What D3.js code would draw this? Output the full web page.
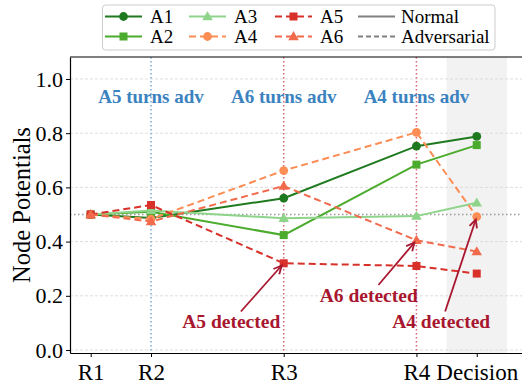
<!DOCTYPE html>
<html><head><meta charset="utf-8">
<script src="https://cdn.jsdelivr.net/npm/d3@7"></script>
<style>body{margin:0;background:#fff;} svg{display:block;}</style>
</head><body>
<svg id="c" width="522" height="385"></svg>
<script>
const categories = ["R1","R2","R3","R4","Decision"];
const catPos = [0, 1, 3.2, 5.4, 6.4];
const yTicks = [0.0, 0.2, 0.4, 0.6, 0.8, 1.0];
const A1 = [0.50, 0.487, 0.560, 0.752, 0.788];
const A2 = [0.50, 0.510, 0.424, 0.684, 0.756];
const A3 = [0.50, 0.515, 0.486, 0.494, 0.543];
const A4 = [0.50, 0.483, 0.662, 0.803, 0.492];
const A5 = [0.50, 0.535, 0.320, 0.310, 0.282];
const A6 = [0.50, 0.474, 0.605, 0.405, 0.363];
const seriesNames = ["A1","A2","A3","A4","A5","A6"];
const seriesValues = [A1,A2,A3,A4,A5,A6];
const seriesColors = ["#1f7a1f","#4bab2c","#8fd48b","#fb8d55","#d8312a","#f26a4c"];
const seriesMarkers = ["circle","square","triangle","circle","square","triangle"];
const seriesAdversarial = [false,false,false,true,true,true];
const turnLabels = ["A5 turns adv","A6 turns adv","A4 turns adv"];
const turnAt = [1, 3.2, 5.4];
const detectLabels = ["A5 detected","A6 detected","A4 detected"];
const detectSeries = [4, 5, 3];
const detectRound = [2, 3, 4];
const detectTextPos = [[2.33, 0.081],[4.61, 0.178],[5.81, 0.081]];
const detectTail = [[2.49, 0.142],[4.77, 0.24],[5.876, 0.142]];

const svg = d3.select("#c");
const L = 70, R = 525, T = 57, B = 353;
const x = d3.scaleLinear().domain([-0.343, 7.2]).range([L, R]);
const y = d3.scaleLinear().domain([-0.011, 1.081]).range([B, T]);
const serif = "'Liberation Serif','Times New Roman',serif";

// shaded decision region
svg.append("rect").attr("x", x(catPos[4]-0.5)).attr("y", T)
  .attr("width", x(catPos[4]+0.5)-x(catPos[4]-0.5)).attr("height", B-T).attr("fill","#f2f2f2");

// grid
svg.append("g").selectAll("line").data(yTicks).join("line")
  .attr("x1", L).attr("x2", R).attr("y1", d=>y(d)).attr("y2", d=>y(d))
  .attr("stroke","#d9d9d9").attr("stroke-width",0.9).attr("stroke-dasharray","3,2");

// 0.5 reference
svg.append("line").attr("x1",L).attr("x2",R).attr("y1",y(0.5)).attr("y2",y(0.5))
  .attr("stroke","#999").attr("stroke-width",1.4).attr("stroke-dasharray","1.5,2.5");

// vertical event lines
const vColors = ["#7aaad6","#d6647a","#d6647a"];
turnAt.forEach((t,i)=>{
  svg.append("line").attr("x1",x(t)).attr("x2",x(t)).attr("y1",T).attr("y2",B)
    .attr("stroke",vColors[i]).attr("stroke-width",1.5).attr("stroke-dasharray","1.5,2.5");
});

// axes
const xAxis = d3.axisBottom(x).tickValues(catPos).tickFormat((d,i)=>categories[i]).tickSize(4).tickSizeOuter(0);
const yAxis = d3.axisLeft(y).tickValues(yTicks).tickFormat(d3.format(".1f")).tickSize(4).tickSizeOuter(0);
const gx = svg.append("g").attr("transform",`translate(0,${B})`).call(xAxis);
const gy = svg.append("g").attr("transform",`translate(${L},0)`).call(yAxis);
[gx,gy].forEach(g=>{
  g.select(".domain").attr("stroke","#000").attr("stroke-width",1.2);
  g.selectAll(".tick line").attr("stroke","#000").attr("stroke-width",1);
  g.selectAll(".tick text").attr("fill","#000").style("font-family",serif).style("font-size","22px");
});
gx.selectAll(".tick text").attr("dy","0.88em").style("font-size","23px");
svg.append("line").attr("x1",L).attr("x2",R).attr("y1",T).attr("y2",T).attr("stroke","#000").attr("stroke-width",1.2);

svg.append("text").attr("transform",`translate(24,${(T+B)/2}) rotate(-90)`)
  .attr("text-anchor","middle").attr("dominant-baseline","middle")
  .style("font-family",serif).style("font-size","24.5px").text("Node Potentials");

function marker(g, type, cx, cy, color, s){
  if(type==="circle") g.append("circle").attr("cx",cx).attr("cy",cy).attr("r",s*0.55).attr("fill",color);
  else if(type==="square") g.append("rect").attr("x",cx-s/2).attr("y",cy-s/2).attr("width",s).attr("height",s).attr("fill",color);
  else { const h=s*1.1; g.append("path").attr("d",`M${cx},${cy-h*0.62}L${cx+h*0.6},${cy+h*0.42}L${cx-h*0.6},${cy+h*0.42}Z`).attr("fill",color); }
}

// series
const line = d3.line().x((d,i)=>x(catPos[i])).y(d=>y(d));
const sg = svg.append("g");
seriesValues.forEach((vals,k)=>{
  sg.append("path").datum(vals).attr("d",line).attr("fill","none")
    .attr("stroke",seriesColors[k]).attr("stroke-width",2)
    .attr("stroke-dasharray", seriesAdversarial[k] ? "7,4" : null);
  vals.forEach((v,i)=>marker(sg, seriesMarkers[k], x(catPos[i]), y(v), seriesColors[k], 8));
});

// turn labels
turnLabels.forEach((t,i)=>{
  svg.append("text").attr("x",x(turnAt[i])).attr("y",y(0.911)).attr("text-anchor","middle")
    .style("font-family",serif).style("font-weight","bold").style("font-size","19px")
    .attr("fill","#3b82c0").text(t);
});

// detected annotations
const dc = "#a8172f";
detectLabels.forEach((t,i)=>{
  const sx = x(detectTail[i][0]), sy = y(detectTail[i][1]);
  const tx = x(catPos[detectRound[i]]), ty = y(seriesValues[detectSeries[i]][detectRound[i]]);
  const ang = Math.atan2(ty-sy, tx-sx);
  const ex = tx - Math.cos(ang)*3, ey = ty - Math.sin(ang)*3;
  svg.append("line").attr("x1",sx).attr("y1",sy).attr("x2",ex).attr("y2",ey).attr("stroke",dc).attr("stroke-width",1.8);
  const hl = 9, ha = 0.45;
  svg.append("path").attr("d",`M${ex-Math.cos(ang-ha)*hl},${ey-Math.sin(ang-ha)*hl}L${ex},${ey}L${ex-Math.cos(ang+ha)*hl},${ey-Math.sin(ang+ha)*hl}`)
    .attr("fill","none").attr("stroke",dc).attr("stroke-width",1.8);
  svg.append("text").attr("x",x(detectTextPos[i][0])).attr("y",y(detectTextPos[i][1])).attr("text-anchor","middle")
    .style("font-family",serif).style("font-weight","bold").style("font-size","19.5px")
    .attr("fill",dc).text(t);
});

// legend
const lg = svg.append("g");
lg.append("rect").attr("x",102.5).attr("y",5).attr("width",392.5).attr("height",45).attr("rx",3)
  .attr("fill","#fff").attr("stroke","#ccc").attr("stroke-width",1);
const colX = [105, 189, 275, 358];
const rowY = [16.5, 36.5];
const legendItems = [
  {c:0,r:0,k:0},{c:0,r:1,k:1},{c:1,r:0,k:2},{c:1,r:1,k:3},{c:2,r:0,k:4},{c:2,r:1,k:5}
];
legendItems.forEach(it=>{
  const x0 = colX[it.c], yy = rowY[it.r], k = it.k;
  lg.append("line").attr("x1",x0).attr("x2",x0+37).attr("y1",yy).attr("y2",yy)
    .attr("stroke",seriesColors[k]).attr("stroke-width",2).attr("stroke-dasharray",seriesAdversarial[k]?"7,4":null);
  marker(lg, seriesMarkers[k], x0+18.5, yy, seriesColors[k], 8);
  lg.append("text").attr("x",x0+45).attr("y",yy).attr("dominant-baseline","central")
    .style("font-family",serif).style("font-size","19px").text(seriesNames[k]);
});
const styleNames = ["Normal","Adversarial"];
styleNames.forEach((s,i)=>{
  const x0 = colX[3], yy = rowY[i];
  lg.append("line").attr("x1",x0).attr("x2",x0+37).attr("y1",yy).attr("y2",yy)
    .attr("stroke","#808080").attr("stroke-width",2).attr("stroke-dasharray", i? "5,3": null);
  lg.append("text").attr("x",x0+43).attr("y",yy).attr("dominant-baseline","central")
    .style("font-family",serif).style("font-size","19px").text(s);
});
</script>
</body></html>
